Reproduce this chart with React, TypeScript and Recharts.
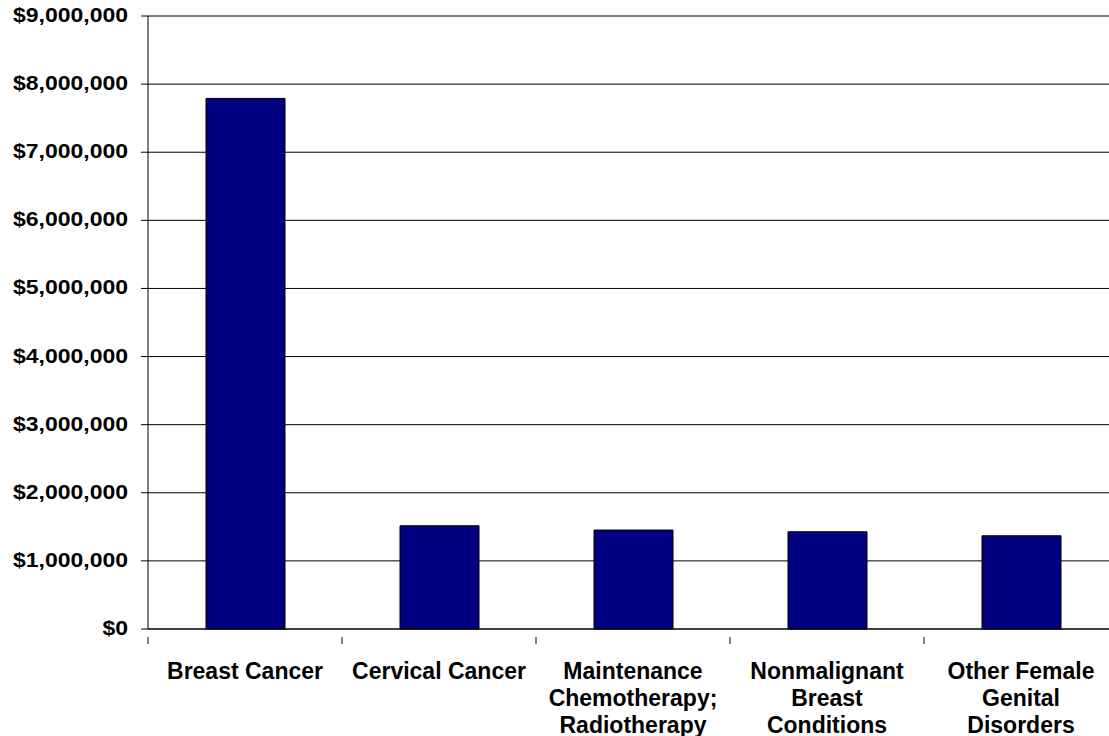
import React from "react";
import { BarChart, Bar, XAxis, YAxis, CartesianGrid } from "recharts";

const categories = [
  "Breast Cancer",
  "Cervical Cancer",
  "Maintenance Chemotherapy; Radiotherapy",
  "Nonmalignant Breast Conditions",
  "Other Female Genital Disorders",
];
const labelLines = [
  ["Breast Cancer"],
  ["Cervical Cancer"],
  ["Maintenance", "Chemotherapy;", "Radiotherapy"],
  ["Nonmalignant", "Breast", "Conditions"],
  ["Other Female", "Genital", "Disorders"],
];
const costs = [7790000, 1516000, 1453000, 1428000, 1369000];
const yTicks = [0, 1000000, 2000000, 3000000, 4000000, 5000000, 6000000, 7000000, 8000000, 9000000];

const data = categories.map((c, i) => ({ name: c, cost: costs[i] }));

const FONT = "Arial, 'Liberation Sans', sans-serif";

const fmt = (v: number) => "$" + v.toLocaleString("en-US");

const YTick = (props: any) => {
  const { x, y, payload } = props;
  return (
    <g transform={`translate(${x},${y}) scale(1.15,1)`}>
      <text x={0} y={0} dy={6} textAnchor="end" fontFamily={FONT} fontWeight="bold" fontSize={20} fill="#000">
        {fmt(payload.value)}
      </text>
    </g>
  );
};

const XTick = (props: any) => {
  const { x, y, index, width } = props;
  const band = (typeof width === "number" && width > 0 ? width : 970) / categories.length;
  const lines = labelLines[index] || [String(props.payload.value)];
  const top = y;
  return (
    <g>
      <line x1={x - band / 2} x2={x - band / 2} y1={top} y2={top + 7} stroke="#000" strokeWidth={1} />
      {index === categories.length - 1 && (
        <line x1={x + band / 2} x2={x + band / 2} y1={top} y2={top + 7} stroke="#000" strokeWidth={1} />
      )}
      <text x={x} y={top + 41.5} textAnchor="middle" fontFamily={FONT} fontWeight="bold" fontSize={23} fill="#000">
        {lines.map((l: string, i: number) => (
          <tspan key={i} x={x} dy={i === 0 ? 0 : 27}>
            {l}
          </tspan>
        ))}
      </text>
    </g>
  );
};

export default function App() {
  return (
    <div style={{ position: "relative", width: 1109, height: 736, overflow: "hidden", background: "#fff" }}>
      <style>{"html,body{margin:0;padding:0;overflow:hidden;}"}</style>
      <BarChart
        width={1130}
        height={736}
        data={data}
        margin={{ top: 16, right: 12, bottom: 0, left: 0 }}
        barSize={79}
      >
        <CartesianGrid vertical={false} stroke="#000" strokeWidth={1} />
        <XAxis
          dataKey="name"
          interval={0}
          height={107}
          tickLine={false}
          axisLine={{ stroke: "#000", strokeWidth: 1 }}
          tick={<XTick />}
        />
        <YAxis
          width={148}
          domain={[0, 9000000]}
          ticks={yTicks}
          interval={0}
          tickSize={7}
          tickMargin={13}
          tickLine={{ stroke: "#000" }}
          axisLine={{ stroke: "#000", strokeWidth: 1 }}
          tick={<YTick />}
        />
        <Bar dataKey="cost" fill="#000080" stroke="#000" strokeWidth={1} isAnimationActive={false} />
      </BarChart>
    </div>
  );
}
